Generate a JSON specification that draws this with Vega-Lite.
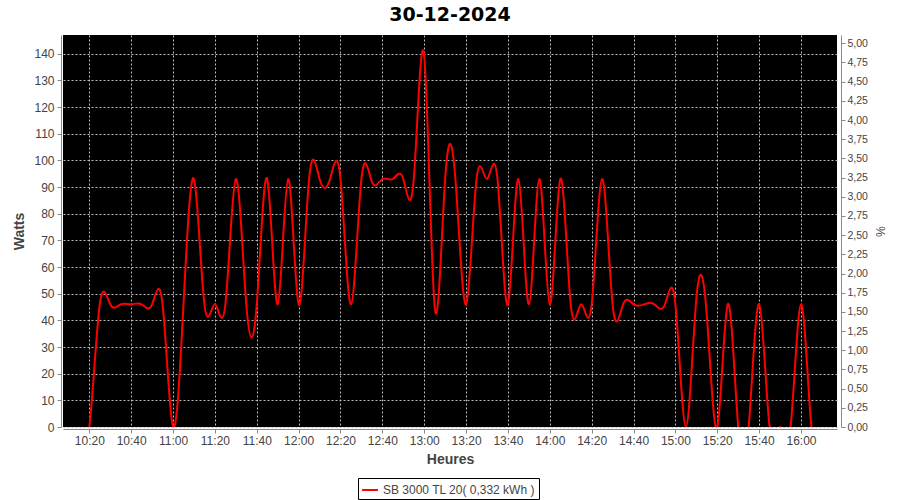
{
  "$schema": "https://vega.github.io/schema/vega-lite/v6.json",
  "autosize": {"type": "none"},
  "padding": {"left": 63, "top": 35, "right": 63, "bottom": 73},
  "width": 774,
  "height": 392,
  "background": "white",
  "title": {"text": "30-12-2024", "font": "DejaVu Sans", "fontSize": 19, "fontWeight": "bold", "color": "#000000", "anchor": "middle", "offset": 10},
  "config": {
    "view": {"fill": "black", "stroke": null},
    "axis": {"labelFont": "Liberation Sans", "labelFontSize": 12, "labelColor": "#444444", "titleFont": "Liberation Sans", "titleFontSize": 14, "titleFontWeight": "bold", "titleColor": "#444444", "domainColor": "#888888", "tickColor": "#888888", "tickSize": 4, "gridColor": "#bbbbbb", "gridDash": [2, 2], "gridWidth": 1, "gridOpacity": 1}
  },
  "data": {"values": [
    {"t": "2024-12-30T10:15:00", "W": 0, "serie": "SB 3000 TL 20( 0,332 kWh )"},
    {"t": "2024-12-30T10:20:00", "W": 0, "serie": "SB 3000 TL 20( 0,332 kWh )"},
    {"t": "2024-12-30T10:25:00", "W": 46, "serie": "SB 3000 TL 20( 0,332 kWh )"},
    {"t": "2024-12-30T10:30:00", "W": 46, "serie": "SB 3000 TL 20( 0,332 kWh )"},
    {"t": "2024-12-30T10:35:00", "W": 46, "serie": "SB 3000 TL 20( 0,332 kWh )"},
    {"t": "2024-12-30T10:40:00", "W": 46, "serie": "SB 3000 TL 20( 0,332 kWh )"},
    {"t": "2024-12-30T10:45:00", "W": 46, "serie": "SB 3000 TL 20( 0,332 kWh )"},
    {"t": "2024-12-30T10:50:00", "W": 46, "serie": "SB 3000 TL 20( 0,332 kWh )"},
    {"t": "2024-12-30T10:55:00", "W": 46, "serie": "SB 3000 TL 20( 0,332 kWh )"},
    {"t": "2024-12-30T11:00:00", "W": 0, "serie": "SB 3000 TL 20( 0,332 kWh )"},
    {"t": "2024-12-30T11:05:00", "W": 46, "serie": "SB 3000 TL 20( 0,332 kWh )"},
    {"t": "2024-12-30T11:10:00", "W": 93, "serie": "SB 3000 TL 20( 0,332 kWh )"},
    {"t": "2024-12-30T11:15:00", "W": 46, "serie": "SB 3000 TL 20( 0,332 kWh )"},
    {"t": "2024-12-30T11:20:00", "W": 46, "serie": "SB 3000 TL 20( 0,332 kWh )"},
    {"t": "2024-12-30T11:25:00", "W": 46, "serie": "SB 3000 TL 20( 0,332 kWh )"},
    {"t": "2024-12-30T11:30:00", "W": 93, "serie": "SB 3000 TL 20( 0,332 kWh )"},
    {"t": "2024-12-30T11:35:00", "W": 46, "serie": "SB 3000 TL 20( 0,332 kWh )"},
    {"t": "2024-12-30T11:40:00", "W": 46, "serie": "SB 3000 TL 20( 0,332 kWh )"},
    {"t": "2024-12-30T11:45:00", "W": 93, "serie": "SB 3000 TL 20( 0,332 kWh )"},
    {"t": "2024-12-30T11:50:00", "W": 46, "serie": "SB 3000 TL 20( 0,332 kWh )"},
    {"t": "2024-12-30T11:55:00", "W": 93, "serie": "SB 3000 TL 20( 0,332 kWh )"},
    {"t": "2024-12-30T12:00:00", "W": 46, "serie": "SB 3000 TL 20( 0,332 kWh )"},
    {"t": "2024-12-30T12:05:00", "W": 93, "serie": "SB 3000 TL 20( 0,332 kWh )"},
    {"t": "2024-12-30T12:10:00", "W": 93, "serie": "SB 3000 TL 20( 0,332 kWh )"},
    {"t": "2024-12-30T12:15:00", "W": 93, "serie": "SB 3000 TL 20( 0,332 kWh )"},
    {"t": "2024-12-30T12:20:00", "W": 93, "serie": "SB 3000 TL 20( 0,332 kWh )"},
    {"t": "2024-12-30T12:25:00", "W": 46, "serie": "SB 3000 TL 20( 0,332 kWh )"},
    {"t": "2024-12-30T12:30:00", "W": 93, "serie": "SB 3000 TL 20( 0,332 kWh )"},
    {"t": "2024-12-30T12:35:00", "W": 92, "serie": "SB 3000 TL 20( 0,332 kWh )"},
    {"t": "2024-12-30T12:40:00", "W": 93, "serie": "SB 3000 TL 20( 0,332 kWh )"},
    {"t": "2024-12-30T12:45:00", "W": 93, "serie": "SB 3000 TL 20( 0,332 kWh )"},
    {"t": "2024-12-30T12:50:00", "W": 93, "serie": "SB 3000 TL 20( 0,332 kWh )"},
    {"t": "2024-12-30T12:55:00", "W": 93, "serie": "SB 3000 TL 20( 0,332 kWh )"},
    {"t": "2024-12-30T13:00:00", "W": 139, "serie": "SB 3000 TL 20( 0,332 kWh )"},
    {"t": "2024-12-30T13:05:00", "W": 45, "serie": "SB 3000 TL 20( 0,332 kWh )"},
    {"t": "2024-12-30T13:10:00", "W": 93, "serie": "SB 3000 TL 20( 0,332 kWh )"},
    {"t": "2024-12-30T13:15:00", "W": 92, "serie": "SB 3000 TL 20( 0,332 kWh )"},
    {"t": "2024-12-30T13:20:00", "W": 46, "serie": "SB 3000 TL 20( 0,332 kWh )"},
    {"t": "2024-12-30T13:25:00", "W": 93, "serie": "SB 3000 TL 20( 0,332 kWh )"},
    {"t": "2024-12-30T13:30:00", "W": 93, "serie": "SB 3000 TL 20( 0,332 kWh )"},
    {"t": "2024-12-30T13:35:00", "W": 93, "serie": "SB 3000 TL 20( 0,332 kWh )"},
    {"t": "2024-12-30T13:40:00", "W": 46, "serie": "SB 3000 TL 20( 0,332 kWh )"},
    {"t": "2024-12-30T13:45:00", "W": 93, "serie": "SB 3000 TL 20( 0,332 kWh )"},
    {"t": "2024-12-30T13:50:00", "W": 46, "serie": "SB 3000 TL 20( 0,332 kWh )"},
    {"t": "2024-12-30T13:55:00", "W": 93, "serie": "SB 3000 TL 20( 0,332 kWh )"},
    {"t": "2024-12-30T14:00:00", "W": 46, "serie": "SB 3000 TL 20( 0,332 kWh )"},
    {"t": "2024-12-30T14:05:00", "W": 93, "serie": "SB 3000 TL 20( 0,332 kWh )"},
    {"t": "2024-12-30T14:10:00", "W": 46, "serie": "SB 3000 TL 20( 0,332 kWh )"},
    {"t": "2024-12-30T14:15:00", "W": 46, "serie": "SB 3000 TL 20( 0,332 kWh )"},
    {"t": "2024-12-30T14:20:00", "W": 46, "serie": "SB 3000 TL 20( 0,332 kWh )"},
    {"t": "2024-12-30T14:25:00", "W": 93, "serie": "SB 3000 TL 20( 0,332 kWh )"},
    {"t": "2024-12-30T14:30:00", "W": 46, "serie": "SB 3000 TL 20( 0,332 kWh )"},
    {"t": "2024-12-30T14:35:00", "W": 46, "serie": "SB 3000 TL 20( 0,332 kWh )"},
    {"t": "2024-12-30T14:40:00", "W": 46, "serie": "SB 3000 TL 20( 0,332 kWh )"},
    {"t": "2024-12-30T14:45:00", "W": 46, "serie": "SB 3000 TL 20( 0,332 kWh )"},
    {"t": "2024-12-30T14:50:00", "W": 46, "serie": "SB 3000 TL 20( 0,332 kWh )"},
    {"t": "2024-12-30T14:55:00", "W": 46, "serie": "SB 3000 TL 20( 0,332 kWh )"},
    {"t": "2024-12-30T15:00:00", "W": 46, "serie": "SB 3000 TL 20( 0,332 kWh )"},
    {"t": "2024-12-30T15:05:00", "W": 0, "serie": "SB 3000 TL 20( 0,332 kWh )"},
    {"t": "2024-12-30T15:10:00", "W": 48, "serie": "SB 3000 TL 20( 0,332 kWh )"},
    {"t": "2024-12-30T15:15:00", "W": 42, "serie": "SB 3000 TL 20( 0,332 kWh )"},
    {"t": "2024-12-30T15:20:00", "W": 0, "serie": "SB 3000 TL 20( 0,332 kWh )"},
    {"t": "2024-12-30T15:25:00", "W": 46, "serie": "SB 3000 TL 20( 0,332 kWh )"},
    {"t": "2024-12-30T15:30:00", "W": 0, "serie": "SB 3000 TL 20( 0,332 kWh )"},
    {"t": "2024-12-30T15:35:00", "W": 0, "serie": "SB 3000 TL 20( 0,332 kWh )"},
    {"t": "2024-12-30T15:40:00", "W": 46, "serie": "SB 3000 TL 20( 0,332 kWh )"},
    {"t": "2024-12-30T15:45:00", "W": 0, "serie": "SB 3000 TL 20( 0,332 kWh )"},
    {"t": "2024-12-30T15:50:00", "W": 0, "serie": "SB 3000 TL 20( 0,332 kWh )"},
    {"t": "2024-12-30T15:55:00", "W": 0, "serie": "SB 3000 TL 20( 0,332 kWh )"},
    {"t": "2024-12-30T16:00:00", "W": 46, "serie": "SB 3000 TL 20( 0,332 kWh )"},
    {"t": "2024-12-30T16:05:00", "W": 0, "serie": "SB 3000 TL 20( 0,332 kWh )"},
    {"t": "2024-12-30T16:10:00", "W": 0, "serie": "SB 3000 TL 20( 0,332 kWh )"}
  ]},
  "layer": [
    {
      "mark": {"type": "line", "interpolate": "natural", "strokeWidth": 2, "clip": true},
      "encoding": {
        "x": {
          "field": "t", "type": "temporal",
          "scale": {"domain": [
            {"year": 2024, "month": 12, "date": 30, "hours": 10, "minutes": 7, "seconds": 26},
            {"year": 2024, "month": 12, "date": 30, "hours": 16, "minutes": 17, "seconds": 12}
          ]},
          "axis": {"title": "Heures", "format": "%H:%M", "values": [
            {"year": 2024, "month": 12, "date": 30, "hours": 10, "minutes": 20},
            {"year": 2024, "month": 12, "date": 30, "hours": 10, "minutes": 40},
            {"year": 2024, "month": 12, "date": 30, "hours": 11, "minutes": 0},
            {"year": 2024, "month": 12, "date": 30, "hours": 11, "minutes": 20},
            {"year": 2024, "month": 12, "date": 30, "hours": 11, "minutes": 40},
            {"year": 2024, "month": 12, "date": 30, "hours": 12, "minutes": 0},
            {"year": 2024, "month": 12, "date": 30, "hours": 12, "minutes": 20},
            {"year": 2024, "month": 12, "date": 30, "hours": 12, "minutes": 40},
            {"year": 2024, "month": 12, "date": 30, "hours": 13, "minutes": 0},
            {"year": 2024, "month": 12, "date": 30, "hours": 13, "minutes": 20},
            {"year": 2024, "month": 12, "date": 30, "hours": 13, "minutes": 40},
            {"year": 2024, "month": 12, "date": 30, "hours": 14, "minutes": 0},
            {"year": 2024, "month": 12, "date": 30, "hours": 14, "minutes": 20},
            {"year": 2024, "month": 12, "date": 30, "hours": 14, "minutes": 40},
            {"year": 2024, "month": 12, "date": 30, "hours": 15, "minutes": 0},
            {"year": 2024, "month": 12, "date": 30, "hours": 15, "minutes": 20},
            {"year": 2024, "month": 12, "date": 30, "hours": 15, "minutes": 40},
            {"year": 2024, "month": 12, "date": 30, "hours": 16, "minutes": 0}
          ], "grid": true, "offset": 2, "labelPadding": 2, "titlePadding": 6, "labelFlush": false, "labelOverlap": false}
        },
        "y": {
          "field": "W", "type": "quantitative",
          "scale": {"domain": [0, 147], "nice": false},
          "axis": {"title": "Watts", "values": [0, 10, 20, 30, 40, 50, 60, 70, 80, 90, 100, 110, 120, 130, 140], "grid": true, "offset": 2, "labelPadding": 3, "titlePadding": 7}
        },
        "color": {
          "field": "serie", "type": "nominal",
          "scale": {"range": ["#ff0000"]},
          "legend": {"title": null, "orient": "none", "legendX": 295, "legendY": 443, "direction": "horizontal", "strokeColor": "#000000", "fillColor": "#ffffff", "padding": 3, "symbolType": "stroke", "symbolStrokeWidth": 2, "symbolSize": 250, "labelFont": "Liberation Sans", "labelFontSize": 12, "labelColor": "#444444"}
        }
      }
    },
    {
      "mark": {"type": "line", "opacity": 0, "clip": true},
      "encoding": {
        "x": {"field": "t", "type": "temporal"},
        "y": {
          "field": "W", "type": "quantitative",
          "scale": {"domain": [0, 5.108], "nice": false},
          "axis": {"orient": "right", "title": "%", "titleFontWeight": "normal", "titleFontSize": 12, "values": [0, 0.25, 0.5, 0.75, 1, 1.25, 1.5, 1.75, 2, 2.25, 2.5, 2.75, 3, 3.25, 3.5, 3.75, 4, 4.25, 4.5, 4.75, 5], "labelExpr": "replace(format(datum.value, '.2f'), '.', ',')", "labelFontSize": 10.5, "grid": false, "offset": 4, "labelPadding": 2, "titlePadding": 5}
        }
      }
    }
  ],
  "resolve": {"scale": {"y": "independent"}}
}
